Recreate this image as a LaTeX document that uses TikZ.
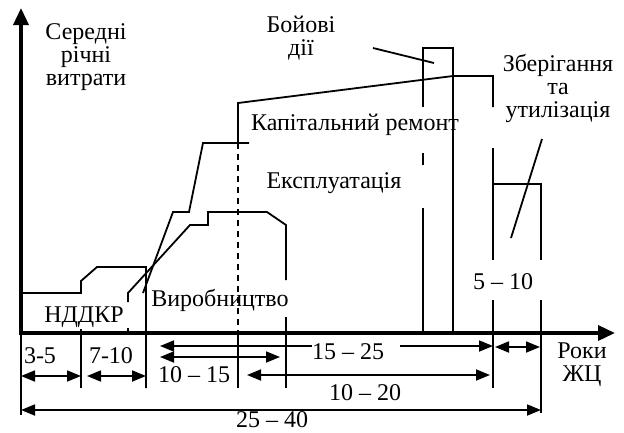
\documentclass[tikz,border=0pt]{standalone}
\usepackage{fontspec}
\setmainfont{Liberation Serif}
\usetikzlibrary{arrows.meta}
\tikzset{
  axline/.style={line width=3.5pt, -{Triangle[length=17pt,width=15pt]}},
  curve/.style={line width=1.8pt},
  cut/.style={curve, dash pattern=on 6pt off 5pt},
  dimboth/.style={line width=1.8pt,
    {Triangle[length=14pt,width=11pt]}-{Triangle[length=14pt,width=11pt]}},
  diml/.style={line width=1.8pt, {Triangle[length=14pt,width=11pt]}-},
  dimr/.style={line width=1.8pt, -{Triangle[length=14pt,width=11pt]}},
  lbl/.style={font=\fontsize{24}{23}\selectfont, inner sep=0pt, align=center},
}

\begin{document}
\begin{tikzpicture}[x=1pt,y=-1pt]
  \useasboundingbox (0,0) rectangle (624,432);

  % axes
  \coordinate (O) at (21,333);
  \coordinate (ytop) at (21,8);
  \coordinate (xend) at (615,333);
  \draw[axline] ([yshift=-1.75pt]O) -- (ytop);
  \draw[axline] ([xshift=-1.75pt]O) -- (xend);

  % labels
  \node[lbl] (cost) at (86,57) {Середні\\річні\\витрати};
  \node[lbl] (combat) at (301,38) {Бойові\\дії};
  \node[lbl] (store) at (558,88) {Зберігання\\та\\утилізація};
  \node[lbl] (repair) at (355,125) {Капітальний ремонт};
  \node[lbl] (oper) at (334,183) {Експлуатація};
  \node[lbl] (prod) at (220,300) {Виробництво};
  \node[lbl] (rnd) at (84,317) {НДДКР};
  \node[lbl] (years) at (582,365) {Роки\\ЖЦ};

  % R&D
  \draw[curve] (21,293) -- (81,293) -- (81,281) -- (97,267) -- (146,267) -- (146,388);
  \draw[curve] (81,329) -- (81,388);

  % production
  \draw[curve] (128,302) -- (128,293) -- (190,225) -- (208,225) -- (208,212)
    -- (267,212) -- (286,225) -- (286,280);
  \draw[curve] (286,317) -- (286,388);
  \draw[curve] (128,328) -- (128,333);

  % exploitation
  \draw[curve] (143,293) -- (173,212) -- (189,212) -- (203,143) -- (249,143);

  % capital repair
  \draw[curve] (238,143) -- (238,103) -- (453,76) -- (493,76) -- (493,107);
  \draw[cut] (238,143) -- (238,333);
  \draw[curve] (238,333) -- (238,388);
  \draw[curve] (493,148) -- (493,260);
  \draw[curve] (493,300) -- (493,388);

  % combat
  \draw[curve] (423,107) -- (423,48) -- (453,48) -- (453,333);
  \draw[curve] (423,153) -- (423,165);
  \draw[curve] (423,208) -- (423,333);
  \draw[curve] (373,48) -- (434,63);

  % storage
  \draw[curve] (493,184) -- (541,184) -- (541,260);
  \draw[curve] (541,300) -- (541,413);
  \draw[curve] (542,139) -- (511,238);

  % durations
  \draw[curve] (21,333) -- (21,415);
  \draw[dimboth] (21,376) -- (81,376);
  \node[lbl] (d1) at (40,356) {3-5};
  \draw[dimboth] (87,376) -- (146,376);
  \node[lbl] (d2) at (111,356) {7-10};
  \draw[diml] (160,346) -- (312,346);
  \draw[dimr] (400,346) -- (493,346);
  \node[lbl] (d3) at (348,352) {15 – 25};
  \draw[dimboth] (160,357) -- (280,357);
  \node[lbl] (d4) at (194,375) {10 – 15};
  \draw[dimboth] (247,375) -- (490,375);
  \node[lbl] (d5) at (365,393) {10 – 20};
  \draw[dimboth] (495,347) -- (540,347);
  \node[lbl] (d6) at (503,282) {5 – 10};
  \draw[dimboth] (21,410) -- (541,410);
  \node[lbl] (d7) at (272,420) {25 – 40};
\end{tikzpicture}
\end{document}
